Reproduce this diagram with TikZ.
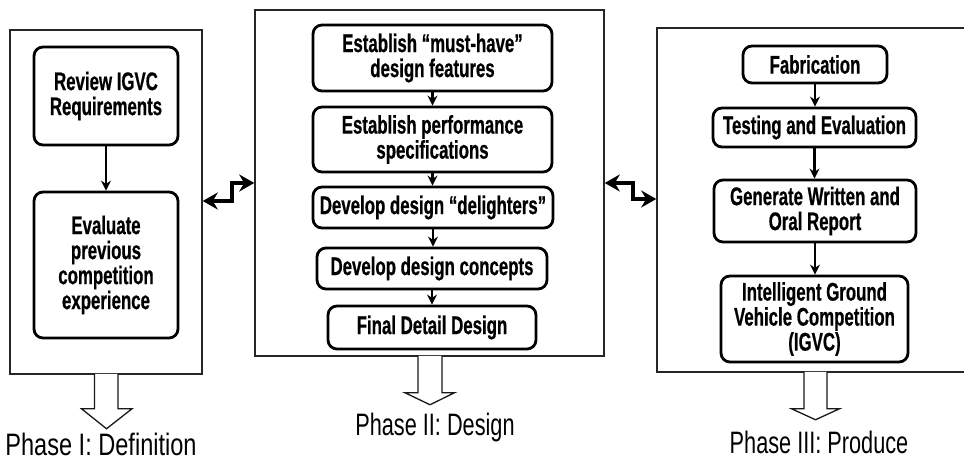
\documentclass[tikz,border=0pt]{standalone}
\usepackage{fontspec}
\setmainfont{Liberation Sans}
\newfontfamily\boxfont{Liberation Sans}[FakeStretch=0.66, FakeBold=0.6]
\newfontfamily\phasefont{Liberation Sans}[FakeStretch=0.70]
\newfontfamily\phasefontw{Liberation Sans}[FakeStretch=0.76]
\usetikzlibrary{arrows.meta,calc}
\tikzset{
  panel/.style={draw=black!85, line width=1.5pt, inner sep=0pt},
  stepbox/.style={draw, line width=2.8pt, rounded corners=9pt, align=center, inner sep=0pt,
    font=\boxfont\bfseries\fontsize{25.5}{25}\selectfont},
  flow/.style={-{Stealth[length=10pt,width=10pt]}, line width=2.4pt},
  zz/.style={{Stealth[length=15pt,width=17pt]}-{Stealth[length=15pt,width=17pt]}, line width=3.8pt},
  hollow/.style={draw=black!90, line width=1.3pt, fill=white, line join=miter},
  phase/.style={anchor=base, inner sep=0pt, font=\phasefont\fontsize{31}{31}\selectfont}
}
\begin{document}
\begin{tikzpicture}[x=1pt,y=-1pt]
\useasboundingbox (0,0) rectangle (964,460);
\clip (0,0) rectangle (964,460);
\fill[white] (0,0) rectangle (964,460);

% panels
\node[panel, minimum width=192pt, minimum height=344pt] (L) at (106,202) {};
\node[panel, minimum width=349pt, minimum height=346pt] (M) at (429.5,183) {};
\node[panel, minimum width=317pt, minimum height=344pt] (R) at (815.5,200) {};

% Phase I boxes
\node[stepbox, minimum width=144pt, minimum height=98pt] (rev) at (106,96) {Review IGVC\\Requirements};
\node[stepbox, minimum width=144pt, minimum height=146pt] (eval) at (106,265) {Evaluate\\previous\\competition\\experience};
\draw[flow] (rev.south) -- (rev.south |- eval.north);

% Phase II boxes
\node[stepbox, minimum width=239pt, minimum height=66pt] (m1) at (432.5,58) {Establish “must-have”\\design features};
\node[stepbox, minimum width=239pt, minimum height=65pt] (m2) at (432.5,139.5) {Establish performance\\specifications};
\node[stepbox, minimum width=240pt, minimum height=41pt] (m3) at (433,207.5) {Develop design “delighters”};
\node[stepbox, minimum width=230pt, minimum height=41pt] (m4) at (432,268.5) {Develop design concepts};
\node[stepbox, minimum width=208pt, minimum height=43pt] (m5) at (432,327.5) {Final Detail Design};
\draw[flow] (m1.south) -- (m1.south |- m2.north);
\draw[flow] (m2.south) -- (m2.south |- m3.north);
\draw[flow] (m3.south) -- (m3.south |- m4.north);
\draw[flow] (m4.south) -- (m4.south |- m5.north);

% Phase III boxes
\node[stepbox, minimum width=144pt, minimum height=37pt] (r1) at (815,64.5) {Fabrication};
\node[stepbox, minimum width=203pt, minimum height=39pt] (r2) at (814.5,127.5) {Testing and Evaluation};
\node[stepbox, minimum width=202pt, minimum height=62pt] (r3) at (815,211) {Generate Written and\\Oral Report};
\node[stepbox, minimum width=187pt, minimum height=86pt] (r4) at (814.5,319) {Intelligent Ground\\Vehicle Competition\\(IGVC)};
\draw[flow] (r1.south) -- (r1.south |- r2.north);
\draw[flow] (r2.south) -- (r2.south |- r3.north);
\draw[flow] (r3.south) -- (r3.south |- r4.north);

% zigzag connectors
\coordinate (z1a) at (232,201);
\coordinate (z1b) at (232,183);
\draw[zz] (L.east |- z1a) -- (z1a) -- (z1b) -- (M.west |- z1b);
\coordinate (z2a) at (633,183);
\coordinate (z2b) at (633,199);
\draw[zz] (M.east |- z2a) -- (z2a) -- (z2b) -- (R.west |- z2b);

% hollow phase arrows
\draw[hollow] ($(L.south)+(-11.5,-1)$) -- ++(0,35) -- ++(-13,0) -- ($(L.south)+(0.5,54)$)
  -- ($(L.south)+(26,34)$) -- ($(L.south)+(12,34)$) -- ($(L.south)+(12,-1)$);
\draw[hollow] ($(M.south)+(-11.5,-1)$) -- ++(0,37) -- ++(-13,0) -- ($(M.south)+(0.5,48)$)
  -- ($(M.south)+(25,36)$) -- ($(M.south)+(12.5,36)$) -- ($(M.south)+(12.5,-1)$);
\draw[hollow] ($(R.south)+(-11.5,-1)$) -- ++(0,37) -- ++(-12.5,0) -- ($(R.south)+(0,47)$)
  -- ($(R.south)+(24,36)$) -- ($(R.south)+(11.5,36)$) -- ($(R.south)+(11.5,-1)$);

% phase labels
\node[phase, font=\phasefontw\fontsize{31}{31}\selectfont] (p1) at (101,455) {Phase I: Definition};
\node[phase] (p2) at (435,435) {Phase II: Design};
\node[phase] (p3) at (819,453) {Phase III: Produce};
\end{tikzpicture}
\end{document}
